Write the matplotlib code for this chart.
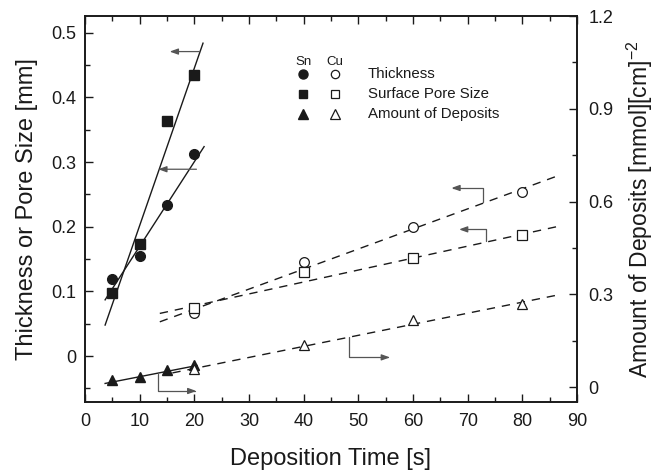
import matplotlib
matplotlib.use("Agg")
import matplotlib.pyplot as plt
import numpy as np

plt.rcParams['font.family'] = ['Liberation Sans', 'DejaVu Sans']
plt.rcParams['mathtext.fontset'] = 'custom'
plt.rcParams['mathtext.rm'] = 'Liberation Sans'

# deposition times
t_sn = [5, 10, 15, 20]
t_cu = [20, 40, 60, 80]

# Sn (filled markers)
sn_thick = [0.119, 0.155, 0.233, 0.313]
sn_pore = [0.098, 0.173, 0.363, 0.435]
sn_amount = [0.023, 0.033, 0.055, 0.071]

# Cu (open markers)
cu_thick = [0.066, 0.146, 0.199, 0.254]
cu_pore = [0.074, 0.130, 0.151, 0.188]
cu_amount = [0.060, 0.135, 0.216, 0.270]

# fitted lines (end points)
sn_thick_fit_x, sn_thick_fit_y = [3.7, 21.8], [0.087, 0.324]
sn_pore_fit_x, sn_pore_fit_y = [3.7, 21.6], [0.048, 0.484]
sn_amount_fit_x, sn_amount_fit_y = [3.7, 20.5], [0.012, 0.070]
cu_thick_fit_x, cu_thick_fit_y = [13.7, 86.2], [0.053, 0.278]
cu_pore_fit_x, cu_pore_fit_y = [13.7, 86.2], [0.066, 0.200]
cu_amount_fit_x, cu_amount_fit_y = [16.0, 86.2], [0.046, 0.297]

fig = plt.figure(figsize=(6.58, 4.71), dpi=100)
ax = fig.add_axes([0.129, 0.1465, 0.748, 0.8195])
ax2 = ax.twinx()

ink = '#1a1a1a'
grey = '#555555'

# Sn
ax.plot(sn_thick_fit_x, sn_thick_fit_y, '-', color=ink, lw=1.0)
ax.plot(sn_pore_fit_x, sn_pore_fit_y, '-', color=ink, lw=1.0)
ax.plot(t_sn, sn_thick, 'o', color=ink, ms=7, ls='none')
ax.plot(t_sn, sn_pore, 's', color=ink, ms=6.8, ls='none')
ax2.plot(sn_amount_fit_x, sn_amount_fit_y, '-', color=ink, lw=1.0)
ax2.plot(t_sn, sn_amount, '^', color=ink, ms=7.5, ls='none')

# Cu
dash = (0, (6, 5))
ax.plot(cu_thick_fit_x, cu_thick_fit_y, color=ink, lw=1.0, ls=dash)
ax.plot(cu_pore_fit_x, cu_pore_fit_y, color=ink, lw=1.0, ls=dash)
ax.plot(t_cu, cu_thick, 'o', mfc='white', mec=ink, mew=0.9, ms=7, ls='none')
ax.plot(t_cu, cu_pore, 's', mfc='white', mec=ink, mew=0.9, ms=6.5, ls='none')
ax2.plot(cu_amount_fit_x, cu_amount_fit_y, color=ink, lw=1.0, ls=dash)
ax2.plot(t_cu, cu_amount, '^', mfc='white', mec=ink, mew=0.9, ms=7.5, ls='none')

# arrows pointing to the relevant axis
aprops = dict(arrowstyle='-|>,head_length=0.5,head_width=0.18', color=grey,
              lw=0.9, shrinkA=0, shrinkB=0)
ax.annotate('', xy=(15.5, 0.471), xytext=(21.0, 0.471), arrowprops=aprops)
ax.annotate('', xy=(13.4, 0.289), xytext=(20.4, 0.289), arrowprops=aprops)
ax.annotate('', xy=(20.4, -0.054), xytext=(13.4, -0.027),
            arrowprops=dict(aprops, connectionstyle='angle,angleA=-90,angleB=0,rad=0'))
ax.annotate('', xy=(67.0, 0.260), xytext=(72.8, 0.239),
            arrowprops=dict(aprops, connectionstyle='angle,angleA=90,angleB=0,rad=0'))
ax.annotate('', xy=(68.4, 0.196), xytext=(73.3, 0.178),
            arrowprops=dict(aprops, connectionstyle='angle,angleA=90,angleB=0,rad=0'))
ax.annotate('', xy=(55.8, -0.002), xytext=(48.3, 0.029),
            arrowprops=dict(aprops, connectionstyle='angle,angleA=-90,angleB=0,rad=0'))

# legend built by hand
ax.text(39.9, 0.455, 'Sn', fontsize=9.5, color=ink, ha='center', va='center')
ax.text(45.7, 0.455, 'Cu', fontsize=9.5, color=ink, ha='center', va='center')
rows = [('o', 'Thickness', 0.4365, 6.5), ('s', 'Surface Pore Size', 0.4056, 6.0),
        ('^', 'Amount of Deposits', 0.3746, 7.0)]
for m, lab, yy, ms in rows:
    ax.plot([39.9], [yy], m, color=ink, ms=ms)
    ax.plot([45.7], [yy], m, mfc='white', mec=ink, mew=0.9, ms=ms - 0.5)
    ax.text(51.7, yy, lab, fontsize=10.8, color=ink, va='center')

ax.set_xlim(0, 90)
ax.set_ylim(-0.071, 0.526)
ax2.set_ylim(-0.048, 1.2)

ax.set_xticks(np.arange(0, 91, 10))
ax.set_xticks(np.arange(0, 91, 5), minor=True)
ax.set_yticks(np.arange(0, 0.51, 0.1))
ax.set_yticks(np.arange(-0.05, 0.51, 0.05), minor=True)
ax.set_yticklabels(['0', '0.1', '0.2', '0.3', '0.4', '0.5'])
ax2.set_yticks([0, 0.3, 0.6, 0.9, 1.2])
ax2.set_yticks(np.arange(0, 1.21, 0.15), minor=True)
ax2.set_yticklabels(['0', '0.3', '0.6', '0.9', '1.2'])

ax.tick_params(which='both', direction='in', top=True, right=False, labelsize=13,
               colors=ink, width=1.0)
ax.tick_params(which='major', length=6)
ax.tick_params(which='minor', length=3.5)
ax.tick_params(axis='x', which='major', pad=8)
ax.tick_params(axis='y', which='major', pad=6)
ax2.tick_params(which='both', direction='in', labelsize=13, colors=ink, width=1.0)
ax2.tick_params(which='major', length=6, pad=8)
ax2.tick_params(which='minor', length=3.5)

for a in (ax, ax2):
    for s in a.spines.values():
        s.set_linewidth(1.2)
        s.set_color(ink)

ax.set_xlabel('Deposition Time [s]', fontsize=17, color=ink, labelpad=13)
ax.set_ylabel('Thickness or Pore Size [mm]', fontsize=17, color=ink, labelpad=10)
ax2.set_ylabel('Amount of Deposits [mmol][cm]$^{-2}$', fontsize=16.5, color=ink,
               labelpad=8)

fig.savefig('out.png', dpi=100)
